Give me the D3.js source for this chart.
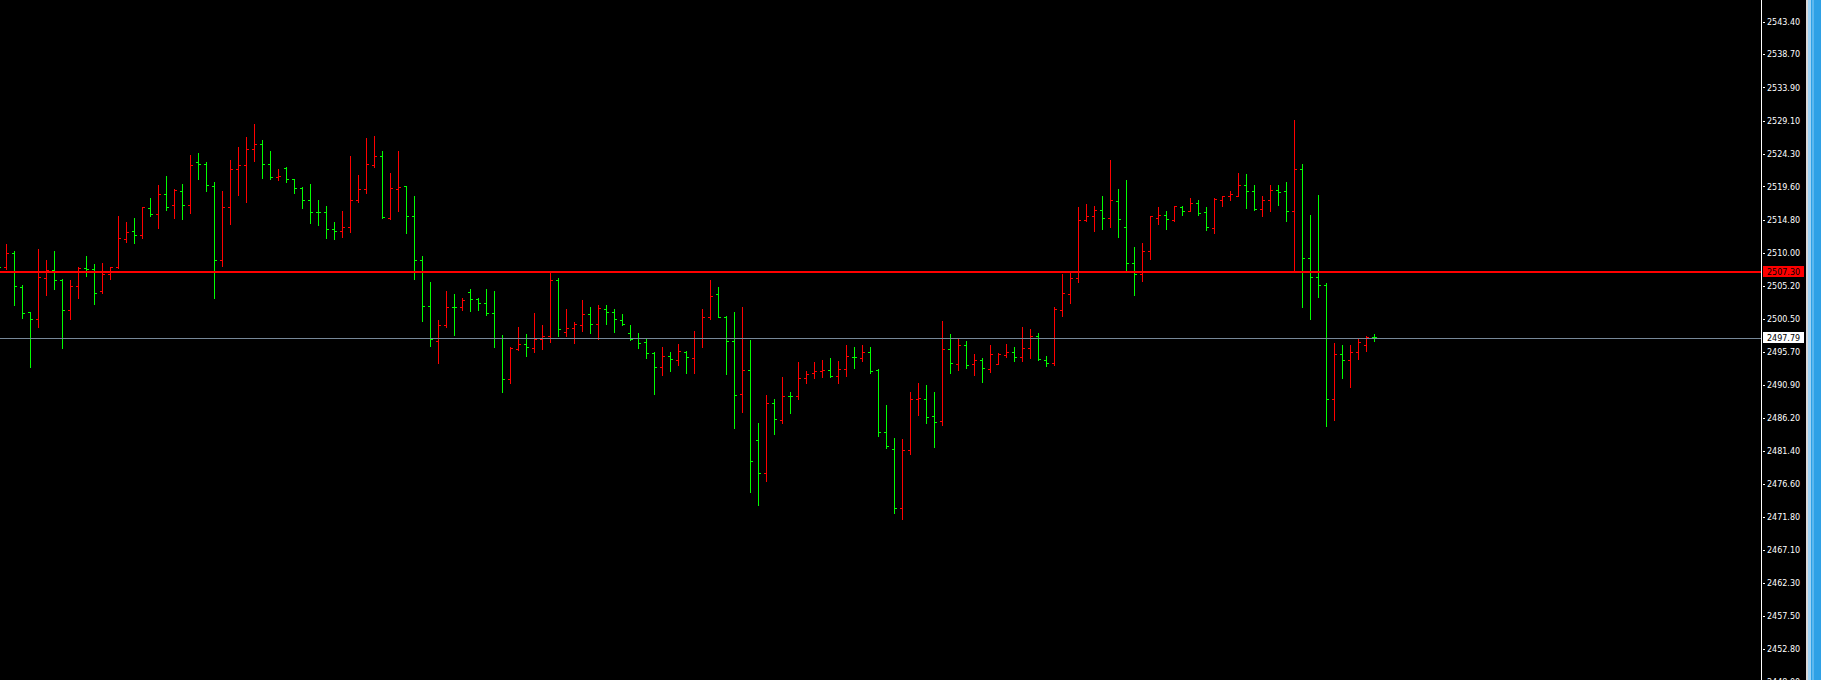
<!DOCTYPE html>
<html><head><meta charset="utf-8">
<script src="https://cdn.jsdelivr.net/npm/d3@7"></script>
<style>html,body{margin:0;padding:0;background:#000;overflow:hidden}</style>
</head><body>
<svg id="c" width="1821" height="680"></svg>
<script>
// OHLC bars, index -1 (partly off-screen) .. 171 (current bar)
const open = [2508.60,
2507.98,2510.00,2505.09,2501.42,2500.46,2506.39,2507.54,2506.14,2501.76,2505.23,
2507.83,2507.69,2504.45,2506.97,2507.98,2512.02,2513.18,2512.60,2516.50,2515.64,
2518.53,2516.94,2519.00,2516.94,2523.05,2522.90,2519.72,2508.99,2516.65,2522.14,
2522.72,2525.07,2525.65,2522.90,2520.98,2522.28,2520.69,2519.39,2517.56,2515.92,
2515.92,2513.37,2513.22,2513.76,2517.70,2519.15,2522.72,2524.02,2515.06,2519.25,
2519.68,2515.35,2508.99,2502.34,2497.33,2499.50,2502.20,2502.20,2504.37,2503.35,
2502.82,2501.37,2497.72,2491.84,2496.07,2496.85,2496.27,2497.57,2498.01,2506.14,
2498.58,2499.16,2499.60,2501.23,2499.74,2501.95,2501.47,2500.32,2498.48,2497.72,
2497.14,2495.59,2493.53,2495.12,2494.54,2495.74,2494.83,2497.72,2500.75,2503.98,
2500.75,2497.33,2489.63,2493.14,2482.98,2478.21,2488.33,2485.87,2489.38,2489.24,
2491.98,2492.66,2492.95,2493.14,2492.23,2493.28,2494.97,2494.87,2495.70,2493.14,
2484.14,2481.72,2473.16,2481.54,2488.90,2488.90,2486.45,2485.72,2496.13,2493.96,
2496.71,2493.96,2494.54,2493.24,2493.96,2495.26,2495.70,2494.97,2496.27,2498.01,
2494.54,2494.11,2501.76,2504.08,2506.39,2514.67,2515.35,2516.21,2515.06,2517.51,
2513.80,2508.56,2507.01,2510.33,2515.06,2515.53,2514.77,2516.65,2516.11,2517.17,
2515.87,2513.56,2517.66,2518.28,2518.28,2519.87,2519.00,2516.26,2517.56,2519.04,
2518.86,2516.07,2522.14,2509.28,2506.53,2505.38,2488.90,2495.41,2494.54,2495.70,
2496.71,2497.86];
const high = [2509.20,
2511.34,2510.33,2505.28,2501.52,2510.62,2509.03,2510.19,2506.24,2506.14,2508.02,
2509.47,2508.45,2508.60,2507.98,2515.25,2514.52,2514.96,2516.65,2517.99,2519.87,
2521.03,2519.19,2519.97,2524.20,2524.35,2523.19,2520.16,2519.00,2523.48,2525.36,
2526.70,2528.54,2526.23,2524.64,2522.04,2522.33,2520.69,2519.44,2520.01,2517.70,
2516.83,2514.52,2516.11,2524.06,2521.31,2526.66,2526.81,2524.64,2521.60,2524.64,
2519.72,2518.28,2509.47,2505.85,2500.36,2504.55,2503.98,2503.40,2504.70,2503.50,
2504.84,2504.55,2498.15,2496.36,2499.35,2498.34,2501.27,2499.50,2507.25,2506.43,
2501.95,2500.07,2503.11,2502.24,2502.39,2502.39,2501.81,2501.19,2499.64,2498.48,
2497.72,2495.70,2496.32,2495.74,2496.89,2495.84,2498.77,2501.95,2506.14,2504.99,
2500.84,2501.52,2502.10,2497.47,2485.48,2489.43,2488.95,2492.03,2489.96,2494.29,
2492.99,2494.29,2494.58,2494.87,2494.44,2496.75,2496.32,2496.61,2496.46,2493.28,
2488.08,2483.31,2483.12,2489.96,2491.12,2490.97,2489.96,2500.22,2498.20,2497.76,
2497.33,2495.45,2494.73,2496.75,2495.59,2496.89,2496.46,2499.21,2498.92,2498.48,
2495.02,2502.10,2506.87,2507.15,2516.55,2517.12,2516.83,2518.28,2523.34,2519.29,
2520.45,2510.91,2511.49,2515.39,2516.69,2515.97,2516.83,2516.79,2517.85,2517.56,
2516.55,2517.89,2518.28,2519.00,2521.60,2521.36,2519.77,2518.14,2519.77,2519.87,
2520.16,2529.12,2522.90,2515.53,2518.42,2505.71,2497.04,2496.75,2496.75,2497.76,
2497.91,2498.20];
const low = [2507.70,
2507.69,2502.43,2500.55,2493.47,2499.25,2503.87,2504.74,2496.22,2500.41,2503.40,
2506.62,2502.57,2504.16,2506.19,2507.78,2511.53,2511.39,2512.07,2515.35,2513.56,
2516.16,2515.00,2514.86,2515.72,2520.63,2518.90,2503.44,2508.07,2514.13,2518.33,
2517.31,2523.24,2520.78,2520.63,2520.55,2520.20,2518.61,2516.45,2514.28,2513.99,
2512.11,2512.02,2512.31,2512.98,2517.31,2518.61,2522.37,2515.00,2514.91,2516.01,
2512.83,2506.19,2500.12,2496.51,2494.05,2499.31,2498.09,2501.71,2501.56,2501.71,
2501.04,2496.36,2489.86,2491.22,2495.99,2495.06,2495.70,2496.07,2497.08,2497.95,
2497.95,2496.94,2498.67,2498.44,2497.57,2499.68,2498.53,2499.54,2497.37,2496.22,
2494.77,2489.57,2492.31,2492.89,2493.76,2492.60,2492.60,2496.36,2500.46,2500.75,
2492.46,2484.66,2486.97,2475.41,2473.53,2477.06,2483.79,2485.38,2486.82,2488.90,
2491.16,2491.94,2492.03,2492.08,2491.22,2492.17,2493.33,2494.39,2492.66,2483.56,
2481.77,2472.38,2471.61,2480.86,2486.54,2485.38,2481.91,2485.09,2492.60,2493.04,
2493.33,2492.31,2491.30,2492.75,2493.90,2494.92,2494.34,2494.34,2494.83,2494.48,
2493.62,2493.76,2500.84,2502.72,2505.75,2514.57,2513.12,2513.37,2513.80,2512.25,
2507.49,2503.87,2505.90,2509.08,2514.23,2513.41,2514.57,2515.43,2516.01,2515.43,
2513.27,2512.83,2516.73,2517.60,2518.28,2516.45,2516.21,2515.29,2516.01,2516.88,
2514.57,2507.30,2502.14,2500.41,2503.59,2484.95,2485.81,2491.88,2490.58,2494.63,
2495.88,2497.23];
const close = [2507.98,
2510.00,2505.23,2501.33,2500.46,2506.53,2507.54,2506.10,2501.76,2505.23,2507.83,
2507.59,2504.26,2507.01,2507.98,2512.17,2513.03,2512.60,2516.55,2515.58,2518.53,
2516.65,2519.10,2516.94,2522.72,2522.90,2519.77,2508.99,2516.65,2522.04,2522.72,
2525.07,2525.65,2522.90,2520.98,2521.13,2520.69,2519.39,2517.56,2515.92,2515.92,
2513.47,2513.22,2513.76,2517.70,2519.15,2522.76,2524.02,2515.20,2519.39,2519.54,
2515.25,2508.99,2502.34,2497.57,2499.50,2502.20,2502.20,2503.25,2503.35,2502.82,
2501.37,2497.72,2491.84,2496.27,2496.85,2496.32,2497.52,2498.01,2506.14,2498.92,
2499.16,2499.78,2501.23,2499.74,2502.05,2501.47,2500.46,2499.74,2497.57,2497.00,
2495.49,2493.53,2495.12,2494.68,2495.88,2494.97,2497.72,2500.75,2503.79,2500.75,
2497.33,2489.48,2493.14,2479.85,2478.21,2488.33,2486.01,2489.38,2489.24,2491.98,
2492.56,2492.95,2493.04,2492.23,2493.28,2495.12,2494.97,2495.70,2492.95,2484.14,
2482.06,2473.16,2481.54,2488.90,2489.05,2486.30,2485.58,2496.17,2494.01,2496.71,
2493.82,2494.54,2493.38,2495.45,2495.31,2495.70,2494.97,2496.27,2498.05,2494.63,
2494.15,2501.95,2504.22,2506.33,2514.67,2515.35,2516.21,2515.06,2517.66,2514.91,
2508.56,2507.01,2510.33,2515.29,2515.53,2514.86,2516.73,2516.07,2517.17,2515.82,
2513.80,2517.74,2518.14,2518.53,2519.87,2519.00,2516.36,2517.66,2519.04,2518.81,
2516.07,2522.14,2509.28,2506.53,2505.38,2488.90,2495.41,2494.54,2495.70,2497.14,
2497.86,2497.79];
const firstBarIndex = -1;
const tickLabels = ["2543.40","2538.70","2533.90","2529.10","2524.30","2519.60","2514.80",
"2510.00","2505.20","2500.50","2495.70","2490.90","2486.20","2481.40","2476.60","2471.80",
"2467.10","2462.30","2457.50","2452.80","2448.00"];
const levelLine = 2507.30;   // red horizontal line
const bidPrice = 2497.79;    // last price line

const W = 1821, H = 680, plotRight = 1761;
const UP = "#ff0000", DOWN = "#00ff00";

const bars = open.map((o, k) => ({i: firstBarIndex + k, o, h: high[k], l: low[k], c: close[k]}));

const svg = d3.select("#c").attr("shape-rendering", "crispEdges");
svg.append("rect").attr("width", W).attr("height", H).attr("fill", "#000");

const y = d3.scaleLinear().domain([2448.35, 2546.60]).range([H, 0]);
const x = d3.scaleLinear().domain([-1, 171]).range([-1.5, 1374.5]);
const py = v => Math.floor(y(v));

svg.append("clipPath").attr("id", "plot").append("rect")
  .attr("x", 0).attr("y", 0).attr("width", plotRight).attr("height", H);
const g = svg.append("g").attr("clip-path", "url(#plot)");

const bg = g.selectAll("g.bar").data(bars).join("g").attr("class", "bar")
  .attr("fill", d => d.c > d.o ? UP : DOWN);
bg.append("rect").attr("x", d => x(d.i) - 0.5).attr("width", 1)
  .attr("y", d => py(d.h)).attr("height", d => py(d.l) - py(d.h) + 1);
bg.append("rect").attr("x", d => x(d.i) - 2.5).attr("width", 2)
  .attr("y", d => py(d.o)).attr("height", 1);
bg.append("rect").attr("x", d => x(d.i) + 0.5).attr("width", 2)
  .attr("y", d => py(d.c)).attr("height", 1);

// price lines
g.append("rect").attr("x", 0).attr("width", plotRight)
  .attr("y", Math.round(y(levelLine)) - 1).attr("height", 2).attr("fill", "#ff0000");
g.append("rect").attr("x", 0).attr("width", plotRight)
  .attr("y", Math.round(y(bidPrice))).attr("height", 1).attr("fill", "#778899");

// right price axis
svg.append("rect").attr("x", plotRight).attr("y", 0).attr("width", 1).attr("height", H).attr("fill", "#fff");
const ax = svg.append("g");
const tickVals = tickLabels.map(Number);
ax.selectAll("rect.tk").data(tickVals).join("rect").attr("class", "tk")
  .attr("x", plotRight + 2).attr("width", 2).attr("y", d => py(d)).attr("height", 1).attr("fill", "#fff");
ax.selectAll("text.tl").data(tickLabels).join("text").attr("class", "tl")
  .attr("x", 1767).attr("y", d => y(+d)).attr("dy", "0.35em")
  .attr("fill", "#fff").attr("font-family", "DejaVu Sans").attr("font-size", "8px")
  .text(d => d);

function priceTag(v, bgc, fg) {
  const t = svg.append("g");
  t.append("rect").attr("x", 1763).attr("y", Math.round(y(v)) - 6).attr("width", 41).attr("height", 11).attr("fill", bgc);
  t.append("text").attr("x", 1767).attr("y", y(v)).attr("dy", "0.35em")
    .attr("fill", fg).attr("font-family", "DejaVu Sans").attr("font-size", "8px")
    .text(d3.format(".2f")(v));
}
priceTag(levelLine, "#ff0000", "#000");
priceTag(bidPrice, "#ffffff", "#000");

// window frame on the right
svg.append("rect").attr("x", 1806).attr("y", 0).attr("width", 2).attr("height", H).attr("fill", "#d8d8d8");
svg.append("rect").attr("x", 1808).attr("y", 0).attr("width", 3).attr("height", H).attr("fill", "#9fd3f5");
svg.append("rect").attr("x", 1811).attr("y", 0).attr("width", 10).attr("height", H).attr("fill", "#2ea1e6");
svg.append("rect").attr("x", 1812).attr("y", 0).attr("width", 2).attr("height", H).attr("fill", "#5cb8ee");
</script>
</body></html>
